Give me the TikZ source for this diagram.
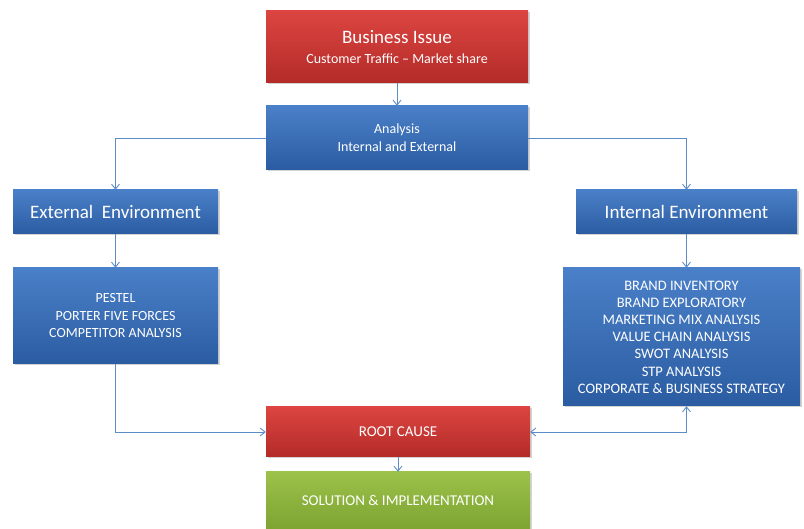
\documentclass[tikz,border=0pt]{standalone}
\usepackage{fontspec}
\setmainfont{Carlito}
\usetikzlibrary{arrows.meta,shadows}

\definecolor{boxblue}{HTML}{4A80C8}
\definecolor{boxbluedark}{HTML}{2B5CA2}
\definecolor{boxred}{HTML}{DC4541}
\definecolor{boxreddark}{HTML}{B32B28}
\definecolor{boxgreen}{HTML}{9CC24A}
\definecolor{boxgreendark}{HTML}{7DA332}
\definecolor{linkblue}{HTML}{5B8CC8}

\tikzset{
  box/.style={rectangle, text=white, align=center, inner sep=2pt,
    drop shadow={opacity=0.35, shadow xshift=1.5pt, shadow yshift=-1.5pt}},
  bluebox/.style={box, top color=boxblue, bottom color=boxbluedark},
  redbox/.style={box, top color=boxred, bottom color=boxreddark},
  greenbox/.style={box, top color=boxgreen, bottom color=boxgreendark},
  link/.style={draw=linkblue, line width=0.9pt, -{Straight Barb[length=5pt,width=8pt]}}
}

\begin{document}
\begin{tikzpicture}[x=1pt,y=-1pt]
\useasboundingbox (0,0) rectangle (804,529);
\node[redbox, minimum width=262pt, minimum height=72pt, font=\fontsize{14}{20}\selectfont] (issue) at (397,47)
  {{\fontsize{19}{21}\selectfont Business Issue}\\ Customer Traffic -- Market share};
\node[bluebox, minimum width=262pt, minimum height=64pt, font=\fontsize{14}{18}\selectfont] (analysis) at (397,138)
  {Analysis\\ Internal and External};
\node[bluebox, minimum width=205pt, minimum height=44pt, font=\fontsize{19}{22}\selectfont] (ext) at (115.5,212)
  {External\ \ Environment};
\node[bluebox, minimum width=221pt, minimum height=44pt, font=\fontsize{19}{22}\selectfont] (int) at (686.5,212)
  {Internal Environment};
\node[bluebox, minimum width=205pt, minimum height=96pt, font=\fontsize{14}{17.5}\selectfont] (extlist) at (115.5,316)
  {PESTEL\\ PORTER FIVE FORCES\\ COMPETITOR ANALYSIS};
\node[bluebox, minimum width=237pt, minimum height=138pt, font=\fontsize{14.5}{17.2}\selectfont] (intlist) at (681.5,337)
  {BRAND INVENTORY\\ BRAND EXPLORATORY\\ MARKETING MIX ANALYSIS\\
   VALUE CHAIN ANALYSIS\\ SWOT ANALYSIS\\ STP ANALYSIS\\ CORPORATE \& BUSINESS STRATEGY};
\node[redbox, minimum width=264pt, minimum height=50pt, font=\fontsize{15}{18}\selectfont] (root) at (398,432)
  {ROOT CAUSE};
\node[greenbox, minimum width=264pt, minimum height=57pt, font=\fontsize{15}{18}\selectfont] (solution) at (398,500.5)
  {SOLUTION \& IMPLEMENTATION};

\draw[link] (issue) -- (analysis);
\draw[link] (analysis.west) -| (ext.north);
\draw[link] (analysis.east) -| (int.north);
\draw[link] (ext) -- (extlist);
\draw[link] (int) -- (int|-intlist.north);
\draw[link] (extlist.south) |- (root.west);
\draw[link, {Straight Barb[length=5pt,width=8pt]}-{Straight Barb[length=5pt,width=8pt]}]
  (int|-intlist.south) |- (root.east);
\draw[link] (root) -- (solution);
\end{tikzpicture}
\end{document}
